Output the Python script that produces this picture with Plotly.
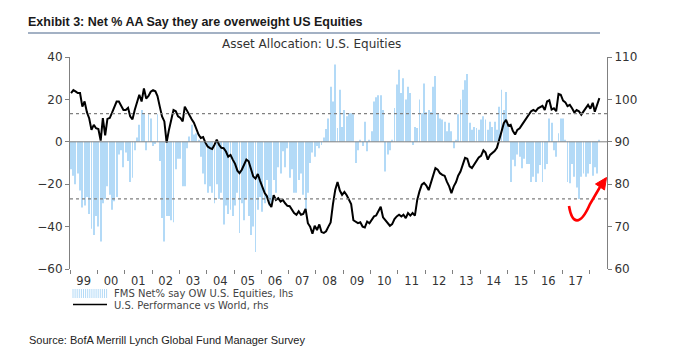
import pandas as pd
import plotly.graph_objects as go

title_text = "Exhibit 3: Net % AA Say they are overweight US Equities"
subtitle_text = "Asset Allocation: U.S. Equities"
bar_name = "FMS Net% say OW U.S. Equities, lhs"
line_name = "U.S. Performance vs World, rhs"
source_text = "Source: BofA Merrill Lynch Global Fund Manager Survey"

# FMS net % overweight US equities (lhs), monthly
fms_1999 = [-13, -16, -20, -15, -23, -31, -30, -26, -34, -41, -44, -35]
fms_2000 = [-40, -47, -29, -27, -21, -25, -32, -28, -26, -6, -4, -12]
fms_2001 = [-5, -9, -19, -17, -4, 2, 8, 15, 13, -4, 13, 11]
fms_2002 = [-2, -1, 13, -9, -36, -47, -35, -35, -37, -38, -13, -8]
fms_2003 = [-8, -21, -21, -3, 2.5, 8, 3.5, 4, 1, -7, -15, -20]
fms_2004 = [-24, -21, -24, -29, -20, -27, -24, -39, -30, -34, -32, -35]
fms_2005 = [-30, -24, -43, -29, -37, -27, -35, -44, -40, -52, -32, -26]
fms_2006 = [-33, -29, -18, -30, -29, -18, -24, -12, -15, -4.5, -12, -3]
fms_2007 = [-17, -13, -24, -24, -18, -15, -25, -32, -24, -10, -5, -7]
fms_2008 = [-2, -3, -1.5, 2, 6, 11, 26, 19, 36.5, 6.5, 24.5, 7]
fms_2009 = [15, 12, 13.5, 13.5, 13, -10, -4, 1, -2, 9.5, -4.5, 1]
fms_2010 = [5, 19, 21, 22, 22, 15, -14, -6, -4, 1, 16, 27]
fms_2011 = [34, 23, 30, 20, 26, 23, -1.5, 7, 6.5, 20, 13.5, 27.5]
fms_2012 = [14, 15, 14, 26, 31, 13.5, 11, 10.5, 9.5, 5, 9, 5]
fms_2013 = [-3, 1, 13, 20, 24.5, 29, 32, 9, 5.7, 7, 6.5, 5.7]
fms_2014 = [10.5, 12, 10.5, 5.7, 9.5, 7, 9.5, 5.7, 16.5, 24.5, 15, 23.5]
fms_2015 = [7, -19, -8.5, -11.5, -6, -7, -12.5, -8, -10.5, -10.5, -19, -16.5]
fms_2016 = [-19, -15, -11, -19, -13, -10.5, 11, 9, -4, -7, 4, 11]
fms_2017 = [11, 1, -19, -19.5, -10.5, -16.5, -21.5, -27, -16.5, -15, -16.5, -15]
fms_2018 = [-10.5, -16, -12, -15, 1]

# US performance vs world (rhs), monthly
perf_1999 = [101.5, 102.2, 101.9, 101.5, 101.5, 98.3, 99.5, 97.0, 95.5, 92.8, 94.0, 93.2]
perf_2000 = [93.0, 90.3, 95.6, 91.5, 95.4, 95.6, 96.8, 98.3, 99.5, 99.5, 98.3, 97.5]
perf_2001 = [97.5, 98.0, 96.0, 95.3, 97.5, 99.3, 101.1, 99.5, 102.6, 100.2, 100.8, 101.8]
perf_2002 = [102.2, 101.9, 100.8, 98.3, 96.0, 94.8, 89.8, 92.8, 95.6, 97.5, 97.2, 96.0]
perf_2003 = [95.6, 94.8, 98.3, 97.2, 96.2, 95.3, 94.5, 93.0, 91.7, 90.9, 91.1, 89.8]
perf_2004 = [88.9, 88.5, 88.3, 89.3, 90.5, 89.3, 88.6, 88.5, 87.7, 86.5, 86.9, 85.8]
perf_2005 = [84.8, 83.2, 82.6, 83.4, 84.6, 85.8, 85.4, 83.4, 81.8, 81.3, 82.4, 80.8]
perf_2006 = [79.1, 77.9, 77.2, 75.5, 74.6, 77.4, 76.3, 76.7, 75.9, 76.3, 75.5, 74.9]
perf_2007 = [74.8, 74.1, 73.2, 72.8, 73.6, 72.8, 73.0, 74.2, 70.8, 70.0, 68.3, 70.2]
perf_2008 = [69.2, 70.5, 68.7, 68.5, 68.9, 70.0, 71.0, 75.3, 78.7, 80.5, 78.5, 77.5]
perf_2009 = [78.2, 77.4, 76.5, 75.3, 71.5, 71.2, 70.8, 71.0, 70.0, 69.8, 71.2, 70.8]
perf_2010 = [71.6, 72.4, 72.6, 73.8, 74.7, 72.2, 71.6, 70.8, 70.2, 70.6, 71.8, 72.4]
perf_2011 = [72.8, 72.4, 72.8, 72.0, 73.2, 72.6, 73.2, 72.6, 76.3, 78.3, 79.9, 80.3]
perf_2012 = [79.7, 78.6, 80.3, 82.6, 83.8, 83.4, 82.6, 82.2, 82.0, 80.6, 79.5, 77.9]
perf_2013 = [79.5, 80.5, 82.0, 83.0, 84.8, 86.2, 86.0, 84.2, 83.8, 84.6, 85.4, 86.3]
perf_2014 = [86.7, 88.0, 87.5, 85.8, 86.9, 87.3, 87.8, 88.6, 90.9, 92.4, 94.4, 95.2]
perf_2015 = [93.8, 94.0, 92.6, 91.7, 92.8, 93.2, 94.0, 94.8, 95.6, 96.6, 97.2, 97.5]
perf_2016 = [97.2, 97.9, 98.1, 98.5, 97.5, 99.5, 99.8, 97.6, 97.9, 97.2, 101.3, 101.1]
perf_2017 = [99.7, 99.3, 98.4, 98.7, 97.9, 96.9, 97.5, 97.2, 96.4, 97.2, 97.8, 98.7]
perf_2018 = [97.8, 99.2, 97.1, 98.7, 100.3]

ref_levels = [13.3, -26.9]   # dotted reference lines (lhs)
lhs_range = [-60, 40]
rhs_range = [60, 110]
x_start, x_end = "1999-01-01", "2018-08-25"

fms = (fms_1999 + fms_2000 + fms_2001 + fms_2002 + fms_2003 + fms_2004 + fms_2005
       + fms_2006 + fms_2007 + fms_2008 + fms_2009 + fms_2010 + fms_2011 + fms_2012
       + fms_2013 + fms_2014 + fms_2015 + fms_2016 + fms_2017 + fms_2018)
perf = (perf_1999 + perf_2000 + perf_2001 + perf_2002 + perf_2003 + perf_2004 + perf_2005
        + perf_2006 + perf_2007 + perf_2008 + perf_2009 + perf_2010 + perf_2011 + perf_2012
        + perf_2013 + perf_2014 + perf_2015 + perf_2016 + perf_2017 + perf_2018)
dates = pd.date_range("1999-01-01", periods=len(fms), freq="MS") + pd.Timedelta(days=14)
perf_dates = pd.date_range("1999-01-01", periods=len(perf), freq="MS") + pd.Timedelta(days=14)

W, H = 683, 357
ML, MR, MT, MB = 70, 76, 57, 88
PW, PH = W - ML - MR, H - MT - MB


def px(x):
    return (x - ML) / PW


def py(y):
    return (H - MB - y) / PH


TICK_FONT = dict(family="DejaVu Sans", size=12, color="#333333")
BAR_COLOR = "#b3daf7"
GRAY = "#808080"

fig = go.Figure()
fig.add_trace(go.Bar(x=dates, y=fms, name=bar_name, marker=dict(color=BAR_COLOR, line=dict(width=0)),
                     yaxis="y", showlegend=False))
fig.add_trace(go.Scatter(x=perf_dates, y=perf, name=line_name, mode="lines",
                         line=dict(color="black", width=2), yaxis="y2", showlegend=False))

shapes = []
for lv in ref_levels:
    shapes.append(dict(type="line", xref="paper", yref="y", x0=0, x1=1, y0=lv, y1=lv,
                       line=dict(color=GRAY, width=1.2, dash="dot"), layer="above"))
# zero line
shapes.append(dict(type="line", xref="paper", yref="y", x0=0, x1=1, y0=0, y1=0,
                   line=dict(color=GRAY, width=1), layer="above"))
# title underline
shapes.append(dict(type="line", xref="paper", yref="paper", x0=px(28), x1=px(600), y0=py(33), y1=py(33),
                   line=dict(color="#8497b0", width=1.3)))
# legend swatches
seg = []
xx = 73
while xx <= 107:
    seg.append(f"M{px(xx)},{py(289)} L{px(xx)},{py(298)}")
    xx += 2.1
shapes.append(dict(type="path", xref="paper", yref="paper", path=" ".join(seg),
                   line=dict(color=BAR_COLOR, width=1)))
shapes.append(dict(type="line", xref="paper", yref="paper", x0=px(73), x1=px(107), y0=py(304.5), y1=py(304.5),
                   line=dict(color="black", width=1.3)))
# red arrow
curve = (f"M{px(569)},{py(206)} C{px(572)},{py(224)} {px(580)},{py(227)} {px(590)},{py(204)} "
         f"L{px(600)},{py(187)}")
shapes.append(dict(type="path", xref="paper", yref="paper", path=curve,
                   line=dict(color="#ff0000", width=2.6)))
head = (f"M{px(606.5)},{py(177.5)} L{px(604.5)},{py(190)} L{px(595.5)},{py(184)} Z")
shapes.append(dict(type="path", xref="paper", yref="paper", path=head,
                   line=dict(color="#ff0000", width=1), fillcolor="#ff0000"))

annotations = [
    dict(text="<b>" + title_text + "</b>", xref="paper", yref="paper", x=px(27), y=py(22),
         xanchor="left", yanchor="middle", showarrow=False, borderpad=0,
         font=dict(family="Liberation Sans Narrow, Arial Narrow, Liberation Sans", size=12.5, color="#1a1a1a")),
    dict(text=subtitle_text, xref="paper", yref="paper", x=px(311), y=py(44),
         xanchor="center", yanchor="middle", showarrow=False, borderpad=0,
         font=dict(family="DejaVu Sans", size=12, color="#333333")),
    dict(text=bar_name, xref="paper", yref="paper", x=px(113), y=py(293.5),
         xanchor="left", yanchor="middle", showarrow=False, borderpad=0,
         font=dict(family="DejaVu Sans", size=10, color="#444444")),
    dict(text=line_name, xref="paper", yref="paper", x=px(113), y=py(305),
         xanchor="left", yanchor="middle", showarrow=False, borderpad=0,
         font=dict(family="DejaVu Sans", size=10, color="#444444")),
    dict(text=source_text, xref="paper", yref="paper", x=px(28), y=py(340),
         xanchor="left", yanchor="middle", showarrow=False, borderpad=0,
         font=dict(family="Liberation Sans Narrow, Arial Narrow, Liberation Sans", size=11, color="#222222")),
]

fig.update_layout(
    width=W, height=H, margin=dict(l=ML, r=MR, t=MT, b=MB),
    paper_bgcolor="white", plot_bgcolor="white",
    bargap=0.55, showlegend=False,
    shapes=shapes, annotations=annotations,
    xaxis=dict(type="date", range=[x_start, x_end], tick0="1999-01-01", dtick="M12",
               ticklabelmode="period", tickformat="%y", labelalias={"18": " "},
               ticks="outside", ticklen=4, tickcolor=GRAY, showline=False, showgrid=False,
               zeroline=False, tickfont=dict(family="DejaVu Sans", size=11.5, color="#333333"),
               ticklabelstandoff=-3),
    yaxis=dict(range=lhs_range, dtick=20, ticks="outside", ticklen=4, tickcolor=GRAY,
               showline=True, linecolor=GRAY, linewidth=1, showgrid=False, zeroline=False,
               tickfont=TICK_FONT),
    yaxis2=dict(range=rhs_range, dtick=10, overlaying="y", side="right", ticks="outside",
                ticklen=4, tickcolor=GRAY, showline=True, linecolor=GRAY, linewidth=1,
                showgrid=False, zeroline=False, tickfont=TICK_FONT),
)

fig.write_html("out.html", config={"displayModeBar": False},
               post_script="document.body.style.margin='0';document.body.style.padding='0';")
